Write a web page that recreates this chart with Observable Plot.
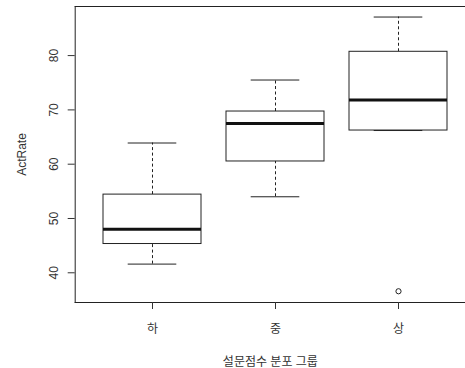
<!DOCTYPE html>
<html>
<head>
<meta charset="utf-8">
<script src="https://cdn.jsdelivr.net/npm/d3@7"></script>
<script src="https://cdn.jsdelivr.net/npm/@observablehq/plot@0.6"></script>
<style>
  html, body { margin: 0; padding: 0; background: #fff; overflow: hidden; }
  svg { overflow: hidden; }
</style>
</head>
<body>
<div id="chart"></div>
<script>
// Groups (x categories)
const groups = ["하", "중", "상"];
// Boxplot statistics per group
const whiskerLow  = [41.6, 54.0, 66.2];
const quart1      = [45.3, 60.5, 66.2];
const medians     = [48.0, 67.5, 71.8];
const quart3      = [54.4, 69.7, 80.7];
const whiskerHigh = [63.9, 75.5, 87.1];
// Outliers
const outlierGroups = ["상"];
const outlierValues = [36.6];
// Axis ticks and titles
const yTicks = [40, 50, 60, 70, 80];
const xTitle = "설문점수 분포 그룹";
const yTitle = "ActRate";

const boxes = groups.map((g, i) => ({
  group: g, lo: whiskerLow[i], q1: quart1[i], med: medians[i], q3: quart3[i], hi: whiskerHigh[i]
}));
const outliers = outlierGroups.map((g, i) => ({group: g, value: outlierValues[i]}));

const lineColor = "#222";
const capInset = 24.7;
const dash = "3,2.5";

const chart = Plot.plot({
  width: 465,
  height: 368,
  marginLeft: 74.7,
  marginRight: 0,
  marginTop: 6,
  marginBottom: 66,
  style: {
    fontFamily: "'Liberation Sans', Arial, 'Noto Sans CJK KR', sans-serif",
    fontSize: "12px",
    color: "#333",
    background: "#fff",
    overflow: "hidden"
  },
  x: {domain: groups, range: [74.7, 475], paddingInner: 0.2, paddingOuter: 0.22, align: 0.5},
  y: {domain: [34.53, 89.04], range: [302, 6]},
  marks: [
    Plot.frame({anchor: "top", stroke: lineColor}),
    Plot.frame({anchor: "bottom", stroke: lineColor}),
    Plot.frame({anchor: "left", stroke: lineColor}),
    Plot.ruleX(boxes, {x: "group", y1: "q3", y2: "hi", stroke: lineColor, strokeDasharray: dash}),
    Plot.ruleX(boxes, {x: "group", y1: "lo", y2: "q1", stroke: lineColor, strokeDasharray: dash}),
    Plot.tickY(boxes, {x: "group", y: "hi", stroke: lineColor, insetLeft: capInset, insetRight: capInset}),
    Plot.tickY(boxes, {x: "group", y: "lo", stroke: lineColor, insetLeft: capInset, insetRight: capInset}),
    Plot.barY(boxes, {x: "group", y1: "q1", y2: "q3", fill: "white", stroke: lineColor, strokeWidth: 1}),
    Plot.tickY(boxes, {x: "group", y: "med", stroke: "#111", strokeWidth: 3}),
    Plot.dot(outliers, {x: "group", y: "value", r: 2.6, stroke: lineColor, fill: "white", strokeWidth: 1}),
    Plot.axisY({
      ticks: yTicks, tickSize: 7, tickPadding: 10.5, tickRotate: -90,
      label: yTitle, labelAnchor: "center", labelOffset: 58, labelArrow: "none"
    }),
    Plot.axisX({
      tickSize: 7, tickPadding: 15,
      label: xTitle, labelAnchor: "center", labelOffset: 63, labelArrow: "none"
    })
  ]
});
document.getElementById("chart").appendChild(chart);
</script>
</body>
</html>
